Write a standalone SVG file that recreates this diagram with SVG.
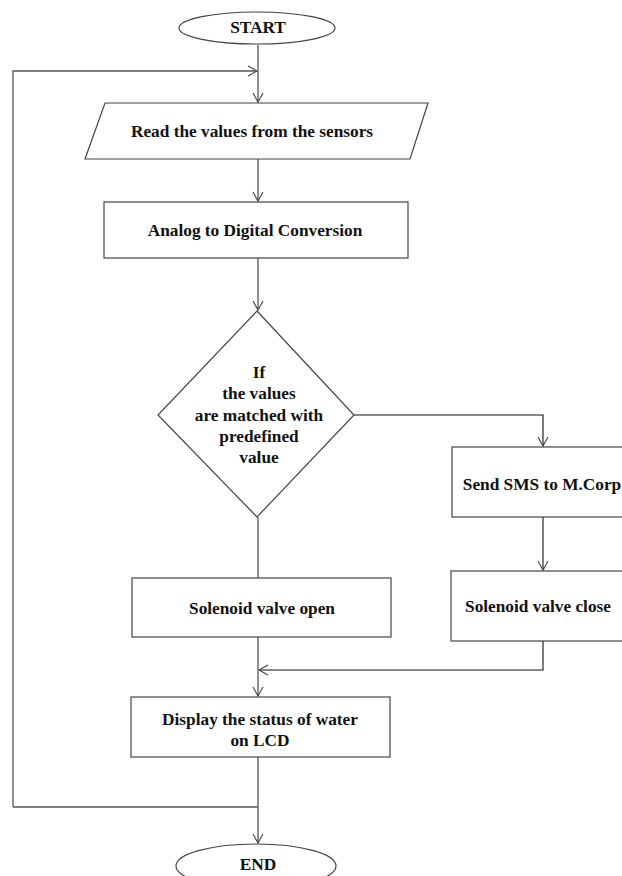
<svg xmlns="http://www.w3.org/2000/svg" width="622" height="876" viewBox="0 0 622 876">
<style>
.s{fill:#fff;stroke:#444;stroke-width:1.2}
.t{font-family:"Liberation Serif","Times New Roman",serif;font-weight:bold;font-size:17.3px;fill:#111;text-anchor:middle}
.c{fill:none;stroke:#555;stroke-width:1.3}
.k{fill:none;stroke:#111;stroke-width:1.1}
</style>
<defs>
<marker id="a" markerUnits="userSpaceOnUse" markerWidth="12" markerHeight="12" refX="10" refY="6" orient="auto">
<path d="M1,1 L10,6 L1,11" fill="none" stroke="#444" stroke-width="1.1"/>
</marker>
</defs>
<g id="connectors">
<path class="c" d="M258,45 V102" marker-end="url(#a)"/>
<path class="c" d="M13,807 V71 H257" marker-end="url(#a)"/>
<path class="c" d="M258,159 V201" marker-end="url(#a)"/>
<path class="c" d="M258,258 V310" marker-end="url(#a)"/>
<path class="k" d="M354,415 H543 V446" marker-end="url(#a)"/>
<path class="k" d="M543,517 V570" marker-end="url(#a)"/>
<path class="k" d="M543,641 V670 H259" marker-end="url(#a)"/>
<path class="c" d="M258,517 V578"/>
<path class="c" d="M258,637 V696" marker-end="url(#a)"/>
<path class="c" d="M258,757 V843" marker-end="url(#a)"/>
<path class="c" d="M258,807 H13"/>
</g>
<g id="start">
<ellipse class="s" cx="257" cy="28" rx="78" ry="16"/>
<text class="t" x="258" y="33">START</text>
</g>
<g id="read">
<polygon class="s" points="105,103 428,103 410,159 85,159"/>
<text class="t" x="252" y="137">Read the values from the sensors</text>
</g>
<g id="adc">
<rect class="s" x="104" y="202" width="304" height="56"/>
<text class="t" x="255" y="236">Analog to Digital Conversion</text>
</g>
<g id="decision">
<polygon class="s" points="257,311 354,415 257,517 158,415"/>
<text class="t" x="259" y="378">If</text>
<text class="t" x="259" y="399">the values</text>
<text class="t" x="259" y="421">are matched with</text>
<text class="t" x="259" y="442">predefined</text>
<text class="t" x="259" y="463">value</text>
</g>
<g id="sms">
<rect class="s" x="452" y="447" width="180" height="70"/>
<text class="t" x="542" y="490">Send SMS to M.Corp</text>
</g>
<g id="close">
<rect class="s" x="451" y="571" width="180" height="70"/>
<text class="t" x="538" y="612">Solenoid valve close</text>
</g>
<g id="open">
<rect class="s" x="132" y="578" width="259" height="59"/>
<text class="t" x="262" y="614">Solenoid valve open</text>
</g>
<g id="display">
<rect class="s" x="131" y="697" width="259" height="60"/>
<text class="t" x="260" y="725">Display the status of water</text>
<text class="t" x="260" y="746">on LCD</text>
</g>
<g id="end">
<ellipse class="s" cx="256" cy="866" rx="80" ry="22"/>
<text class="t" x="258" y="870">END</text>
</g>
</svg>
